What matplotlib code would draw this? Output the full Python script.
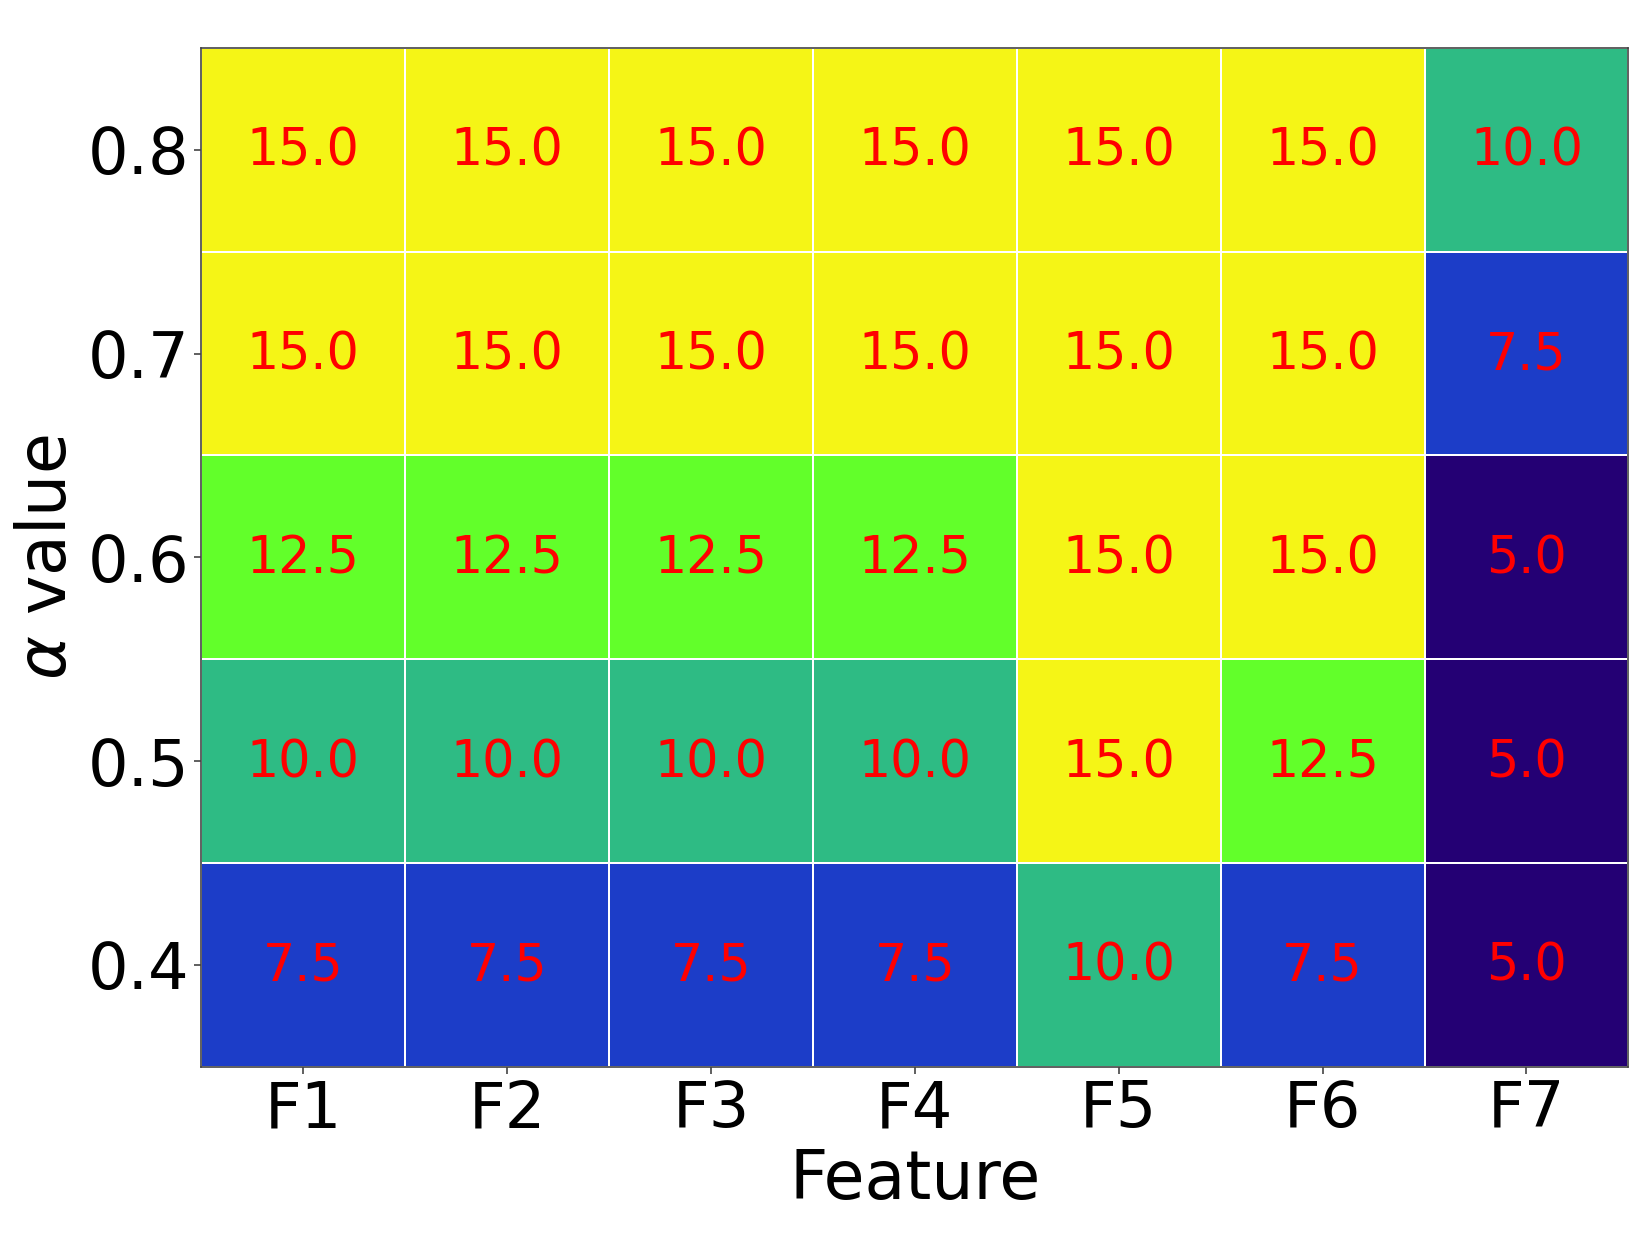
import numpy as np
import matplotlib.pyplot as plt
from matplotlib.colors import ListedColormap, BoundaryNorm

features = ['F1', 'F2', 'F3', 'F4', 'F5', 'F6', 'F7']
alphas = [0.4, 0.5, 0.6, 0.7, 0.8]
# rows follow alphas (bottom to top)
vals = np.array([
    [7.5, 7.5, 7.5, 7.5, 10.0, 7.5, 5.0],
    [10.0, 10.0, 10.0, 10.0, 15.0, 12.5, 5.0],
    [12.5, 12.5, 12.5, 12.5, 15.0, 15.0, 5.0],
    [15.0, 15.0, 15.0, 15.0, 15.0, 15.0, 7.5],
    [15.0, 15.0, 15.0, 15.0, 15.0, 15.0, 10.0],
])
colors = ['#240074', '#1c3dc8', '#2ebb84', '#62ff2a', '#f5f516']

cmap = ListedColormap(colors)
norm = BoundaryNorm([3.75, 6.25, 8.75, 11.25, 13.75, 16.25], cmap.N)

fig = plt.figure(figsize=(16.44, 12.33), dpi=100)
ax = fig.add_axes([0.1225, 0.135, 0.868, 0.826])
ax.pcolormesh(np.arange(len(features) + 1) - 0.5, np.arange(len(alphas) + 1) - 0.5,
              vals, cmap=cmap, norm=norm, edgecolors='white', linewidth=1.2)
for i in range(len(alphas)):
    for j in range(len(features)):
        ax.text(j, i - 0.01, '%.1f' % vals[i, j], ha='center', va='center',
                color='red', fontsize=36.5)

ax.set_xticks(range(len(features)))
ax.set_xticklabels(features, fontsize=46)
ax.set_yticks(range(len(alphas)))
ax.set_yticklabels(['%.1f' % a for a in alphas], fontsize=46)
ax.set_xlim(-0.5, len(features) - 0.5)
ax.set_ylim(-0.5, len(alphas) - 0.5)
ax.set_xlabel('Feature', fontsize=48, labelpad=5)
ax.set_ylabel(r'$\alpha$ value', fontsize=48, labelpad=6)
for s in ax.spines.values():
    s.set_color('#444444')
    s.set_linewidth(1.2)
ax.tick_params(color='#444444', length=5, width=1.2)

fig.savefig('out.png', dpi=100)
